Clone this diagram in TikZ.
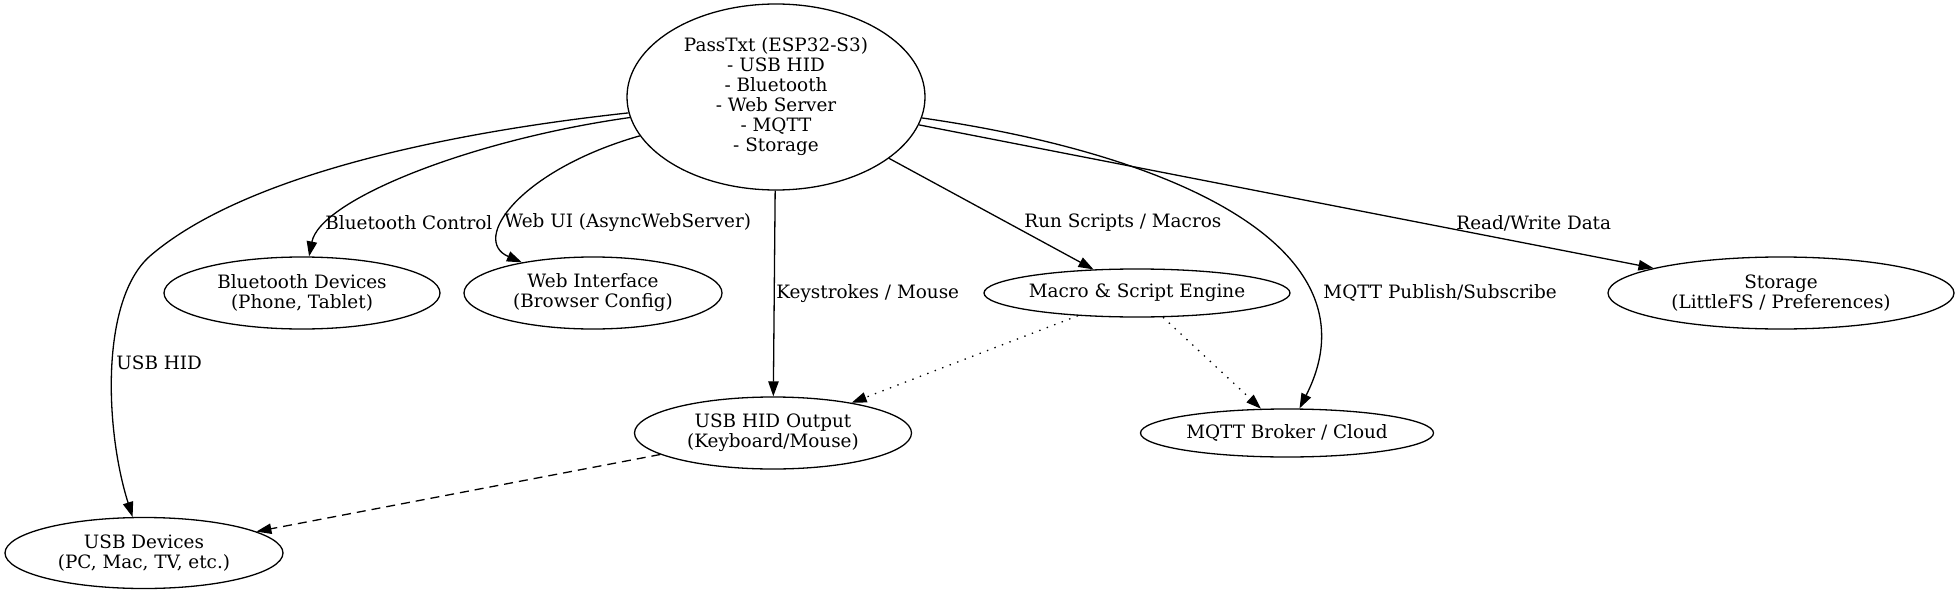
\documentclass[tikz,border=0pt]{standalone}
\usepackage{fontspec}
\setmainfont{DejaVu Serif}
\usepackage{tikz}
\usetikzlibrary{arrows.meta,shapes.geometric}

\begin{document}
\begin{tikzpicture}[x=0.5pt,y=0.5pt,>={Triangle[length=7.5pt,width=5.2pt]},
  every node/.style={font=\fontsize{9.2}{10}\selectfont},
  unit/.style={ellipse,draw,line width=0.65pt,align=center,inner sep=0pt},
  lbl/.style={anchor=west,inner sep=0pt},
  flow/.style={->,line width=0.65pt},
  dots/.style={flow,dash pattern=on 0.7pt off 3.3pt},
  dashes/.style={flow,dash pattern=on 4.5pt off 3pt}]
\useasboundingbox (0,0) rectangle (1960,596);
\node[unit,minimum width=149pt,minimum height=93pt] (main) at (776,499)
  {PassTxt (ESP32-S3)\\- USB HID\\- Bluetooth\\- Web Server\\- MQTT\\- Storage};
\node[unit,minimum width=138pt,minimum height=36pt] (bt) at (302,303) {Bluetooth Devices\\(Phone, Tablet)};
\node[unit,minimum width=129pt,minimum height=36pt] (web) at (593,303) {Web Interface\\(Browser Config)};
\node[unit,minimum width=151pt,minimum height=24pt] (macro) at (1137,303) {Macro \& Script Engine};
\node[unit,minimum width=173pt,minimum height=36pt] (store) at (1781,303) {Storage\\(LittleFS / Preferences)};
\node[unit,minimum width=138.5pt,minimum height=36pt] (hid) at (773,163) {USB HID Output\\(Keyboard/Mouse)};
\node[unit,minimum width=146.5pt,minimum height=24pt] (mqtt) at (1287,163) {MQTT Broker / Cloud};
\node[unit,minimum width=139pt,minimum height=35.5pt] (usbdev) at (144,43) {USB Devices\\(PC, Mac, TV, etc.)};
\node[lbl] (lusb) at (116,233) {USB HID};
\node[lbl] (lbt) at (325,373) {Bluetooth Control};
\node[lbl] (lweb) at (504,373) {Web UI (AsyncWebServer)};
\node[lbl] (lkey) at (776,302) {Keystrokes / Mouse};
\node[lbl] (lrun) at (1024,373) {Run Scripts / Macros};
\node[lbl] (lmqtt) at (1323,303) {MQTT Publish/Subscribe};
\node[lbl] (lrw) at (1456,373) {Read/Write Data};
\draw[flow] (main) .. controls (470,466) and (250,426) .. (150,340) .. controls (100,296) and (105,166) .. (usbdev);
\draw[flow] (main) .. controls (470,456) and (320,396) .. (bt);
\draw[flow] (main) .. controls (520,426) and (470,356) .. (web);
\draw[flow] (main) -- (hid);
\draw[flow] (main) -- (macro);
\draw[flow] (main) .. controls (1180,441) and (1380,346) .. (mqtt);
\draw[flow] (main) -- (store);
\draw[dots] (macro) -- (hid);
\draw[dots] (macro) -- (mqtt);
\draw[dashes] (hid) -- (usbdev);
\end{tikzpicture}
\end{document}
